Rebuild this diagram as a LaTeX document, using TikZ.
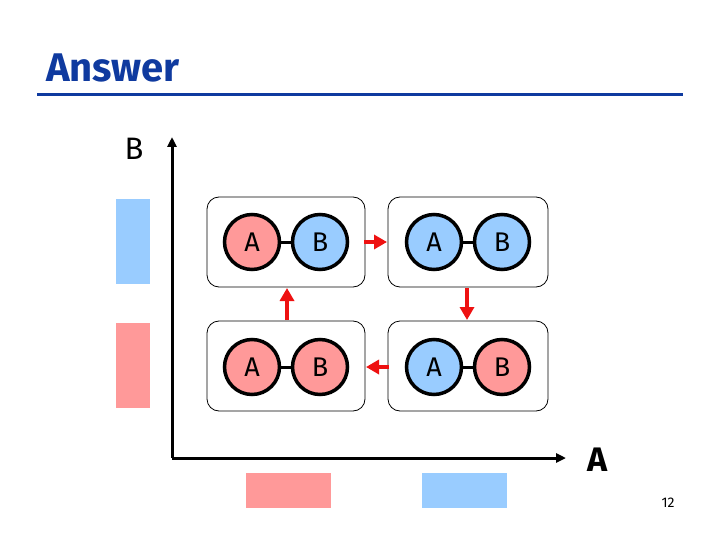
\documentclass[tikz,border=0pt]{standalone}
\usepackage{fontspec}
\setmainfont{Fira Sans}
\usetikzlibrary{arrows.meta}
\definecolor{tblue}{HTML}{0F3A9F}
\definecolor{lblue}{HTML}{99CCFF}
\definecolor{lred}{HTML}{FF9999}
\definecolor{arred}{HTML}{EE1111}
\tikzset{
  box/.style={draw=black, line width=0.8pt, rounded corners=12pt},
  ball/.style={circle, draw=black, line width=3.5pt, minimum size=55pt, inner sep=0pt, font=\fontsize{27}{30}\selectfont\mdseries},
  bar/.style={fill=#1, draw=none},
  axis/.style={line width=3pt, -{Triangle[length=10pt,width=9pt]}},
  move/.style={draw=arred, line width=4pt, -{Triangle[length=13pt,width=14pt]}},
  link/.style={line width=3pt}
}
\begin{document}
\begin{tikzpicture}[x=1pt,y=-1pt]
\useasboundingbox (0,0) rectangle (720,540);
% title
\node[anchor=west, inner sep=0pt, text=tblue, font=\fontsize{40}{44}\selectfont\bfseries] (title) at (46,68) {Answer};
\draw[tblue, line width=3pt] (37,95) -- (683,95);
% axes
\coordinate (origin) at (172,458);
\coordinate (ytop) at (172,137);
\coordinate (xend) at (566,458);
\draw[axis] (origin) -- (ytop);
\draw[axis] (origin) -- (xend);
\node[font=\fontsize{31}{34}\selectfont] (ylab) at (134,149) {B};
\node[font=\fontsize{34}{38}\selectfont\bfseries] (xlab) at (598,460) {A};
% side bars
\fill[bar=lblue] (116,199) rectangle (150,284);
\fill[bar=lred] (116,323) rectangle (150,408);
\fill[bar=lred] (246,473) rectangle (331,508);
\fill[bar=lblue] (422,473) rectangle (507,508);
% boxes
\draw[box] (207,197) rectangle (365,287);
\draw[box] (388,197) rectangle (548,287);
\draw[box] (207,321) rectangle (365,411);
\draw[box] (388,321) rectangle (548,411);
% balls
\node[ball, fill=lred] (tlA) at (252,242) {A};
\node[ball, fill=lblue] (tlB) at (320,242) {B};
\draw[link] (tlA) -- (tlB);
\node[ball, fill=lblue] (trA) at (434,242) {A};
\node[ball, fill=lblue] (trB) at (502,242) {B};
\draw[link] (trA) -- (trB);
\node[ball, fill=lred] (blA) at (252,367) {A};
\node[ball, fill=lred] (blB) at (320,367) {B};
\draw[link] (blA) -- (blB);
\node[ball, fill=lblue] (brA) at (434,367) {A};
\node[ball, fill=lred] (brB) at (502,367) {B};
\draw[link] (brA) -- (brB);
% transition arrows
\coordinate (a1s) at (364,242); \coordinate (a1e) at (387,242);
\coordinate (a2s) at (467,288); \coordinate (a2e) at (467,320);
\coordinate (a3s) at (389,367); \coordinate (a3e) at (366,367);
\coordinate (a4s) at (287,320); \coordinate (a4e) at (287,288);
\draw[move] (a1s) -- (a1e);
\draw[move] (a2s) -- (a2e);
\draw[move] (a3s) -- (a3e);
\draw[move] (a4s) -- (a4e);
% page number
\node[font=\fontsize{14}{16}\selectfont] (pg) at (668,503) {12};
\end{tikzpicture}
\end{document}
